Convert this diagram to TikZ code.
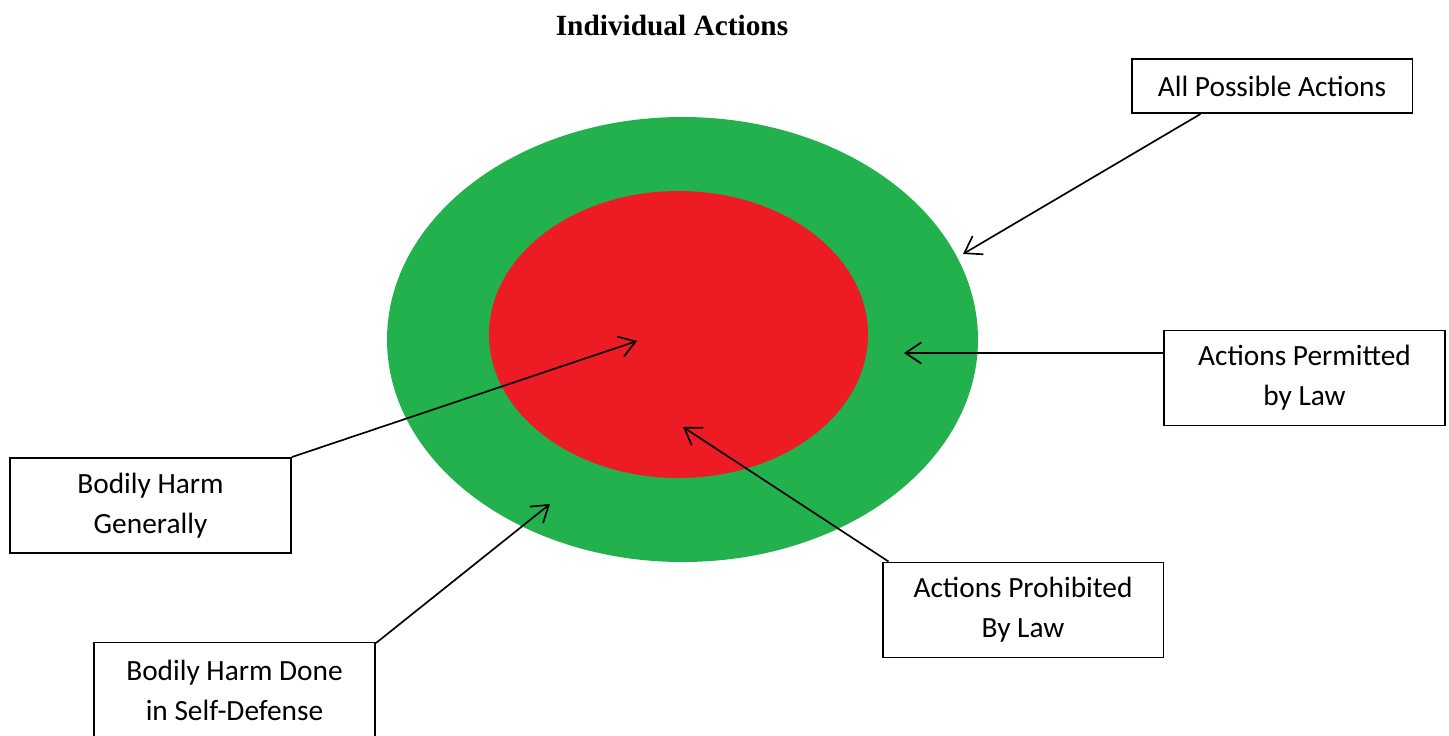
\documentclass[tikz,border=0pt]{standalone}
\usepackage{fontspec}
\setmainfont{Carlito}
\newfontfamily\titlefont{Liberation Serif}
\usepackage{xcolor}
\usetikzlibrary{arrows.meta}
\definecolor{permitgreen}{HTML}{22B14C}
\definecolor{prohibitred}{HTML}{ED1C24}
\tikzset{
	labelbox/.style={draw, line width=1.1pt, align=center, inner sep=0pt, minimum width=5.62cm, minimum height=1.9cm, font=\fontsize{16.7}{22.8}\selectfont},
	pointer/.style={-{Straight Barb[length=9pt,width=12pt]}, line width=0.95pt}
}
\begin{document}
\begin{tikzpicture}[x=0.02cm, y=-0.02cm]
			\useasboundingbox (0,0) rectangle (1449,735);
			\node[font=\titlefont\bfseries\fontsize{16.7}{20}\selectfont] (title) at (672,25) {Individual Actions};
			\fill[permitgreen] (682.5,339.5) ellipse [x radius=295.5, y radius=222.5];
			\fill[prohibitred] (678.5,334.5) ellipse [x radius=189.5, y radius=143.5];
			\node[labelbox, minimum height=1.08cm] (allpossible) at (1272,86) {All Possible Actions};
			\node[labelbox] (permitted) at (1304.5,378) {Actions Permitted\\by Law};
			\node[labelbox] (generally) at (150.5,505.5) {Bodily Harm\\Generally};
			\node[labelbox] (prohibited) at (1023,610) {Actions Prohibited\\By Law};
			\node[labelbox] (selfdefense) at (234.5,690) {Bodily Harm Done\\in Self-Defense};
			\coordinate (outeredge) at (963,254);
			\coordinate (greenring) at (904,353);
			\coordinate (redcentre) at (637,341);
			\coordinate (redlower) at (683,427);
			\coordinate (greenlower) at (550,504);
			\draw[pointer] ([xshift=1.4cm]allpossible.south west) -- (outeredge);
			\draw[pointer] ([yshift=0.5cm]permitted.west) -- (greenring);
			\draw[pointer] (generally.north east) -- (redcentre);
			\draw[pointer] ([xshift=0.14cm]prohibited.north west) -- (redlower);
			\draw[pointer] ([yshift=-0.03cm]selfdefense.north east) -- (greenlower);
		\end{tikzpicture}
\end{document}
